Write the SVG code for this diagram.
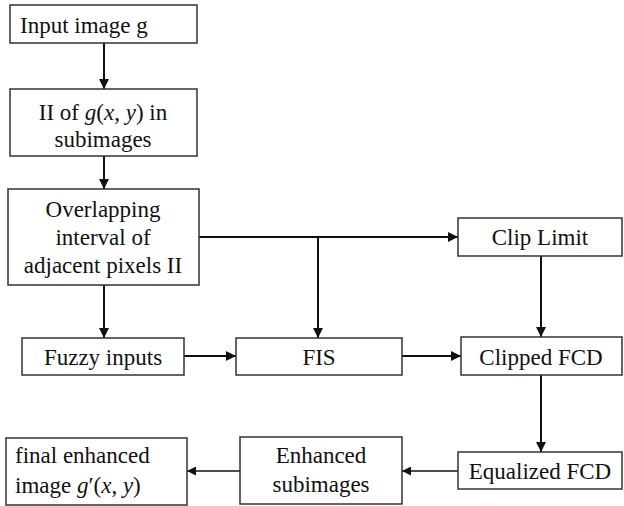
<svg xmlns="http://www.w3.org/2000/svg" width="624" height="506" viewBox="0 0 624 506">
<style>
.box{fill:#fff;stroke:#333;stroke-width:1.5}
.c{text-anchor:middle}
.m{font-style:italic}
.ln{fill:none;stroke:#111;stroke-width:2}
.thin{stroke-width:1.5}
</style>
<defs>
<marker id="ah" viewBox="0 0 10 10" refX="10" refY="5" markerWidth="5" markerHeight="5" orient="auto" markerUnits="strokeWidth">
<path d="M0,0 L10,5 L0,10 z" fill="#111"/>
</marker>
<marker id="ah2" viewBox="0 0 10 10" refX="10" refY="5" markerWidth="6" markerHeight="6" orient="auto" markerUnits="strokeWidth">
<path d="M0,0 L10,5 L0,10 z" fill="#111"/>
</marker>
</defs>
<rect width="624" height="506" fill="#fff"/>
<g id="connectors">
<line class="ln" x1="104" y1="43" x2="104" y2="89" marker-end="url(#ah)"/>
<line class="ln" x1="104" y1="156" x2="104" y2="189" marker-end="url(#ah)"/>
<polyline class="ln" points="199,237 458,237" marker-end="url(#ah)"/>
<line class="ln" x1="318" y1="237" x2="318" y2="338" marker-end="url(#ah)"/>
<line class="ln" x1="104" y1="285" x2="104" y2="338" marker-end="url(#ah)"/>
<line class="ln" x1="184" y1="356" x2="236" y2="356" marker-end="url(#ah)"/>
<line class="ln" x1="402" y1="356" x2="461" y2="356" marker-end="url(#ah)"/>
<line class="ln" x1="541" y1="256" x2="541" y2="337" marker-end="url(#ah)"/>
<line class="ln" x1="541" y1="375" x2="541" y2="452" marker-end="url(#ah)"/>
<line class="ln thin" x1="458" y1="471" x2="402" y2="471" marker-end="url(#ah2)"/>
<line class="ln thin" x1="240" y1="471" x2="187" y2="471" marker-end="url(#ah2)"/>
</g>
<g font-family="Liberation Serif, Times New Roman, DejaVu Serif, serif" font-size="23" fill="#111">
<g id="n1"><rect class="box" x="10" y="5" width="187" height="38"/><text x="20" y="33">Input image g</text></g>
<g id="n2"><rect class="box" x="10" y="89" width="187" height="67"/>
<text class="c" x="103" y="120">II of <tspan class="m">g</tspan>(<tspan class="m">x</tspan>, <tspan class="m">y</tspan>) in</text>
<text class="c" x="103" y="147">subimages</text></g>
<g id="n3"><rect class="box" x="8" y="189" width="191" height="96"/>
<text class="c" x="103" y="217">Overlapping</text>
<text class="c" x="103" y="245">interval of</text>
<text class="c" x="103" y="273">adjacent pixels II</text></g>
<g id="n4"><rect class="box" x="458" y="218" width="164" height="38"/><text class="c" x="540" y="245">Clip Limit</text></g>
<g id="n5"><rect class="box" x="22" y="338" width="162" height="37"/><text class="c" x="103" y="365">Fuzzy inputs</text></g>
<g id="n6"><rect class="box" x="236" y="338" width="166" height="37"/><text class="c" x="319" y="365">FIS</text></g>
<g id="n7"><rect class="box" x="461" y="337" width="161" height="38"/><text class="c" x="541" y="365">Clipped FCD</text></g>
<g id="n8"><rect class="box" x="458" y="452" width="164" height="37"/><text class="c" x="540" y="479">Equalized FCD</text></g>
<g id="n9"><rect class="box" x="240" y="437" width="162" height="67"/>
<text class="c" x="321" y="463">Enhanced</text>
<text class="c" x="321" y="492">subimages</text></g>
<g id="n10"><rect class="box" x="6" y="438" width="181" height="67"/>
<text x="15" y="463">final enhanced</text>
<text x="15" y="493">image  <tspan class="m">g</tspan>′(<tspan class="m">x</tspan>, <tspan class="m">y</tspan>)</text></g>
</g>
</svg>
